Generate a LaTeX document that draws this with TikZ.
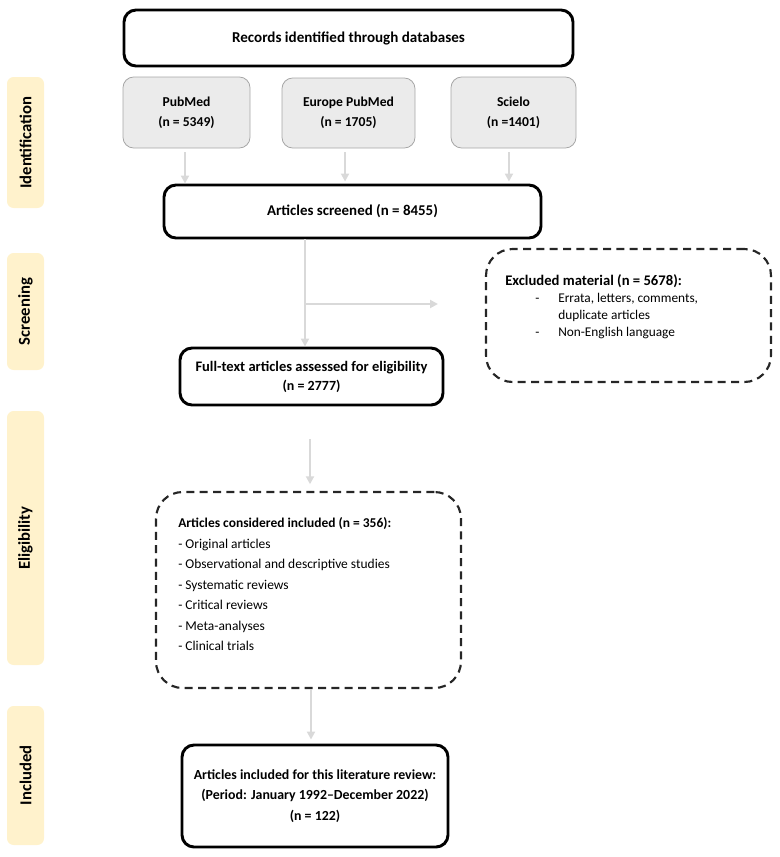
\documentclass[tikz,border=0pt]{standalone}
\usepackage{fontspec}
\setmainfont{Carlito}
\usetikzlibrary{arrows.meta}
\definecolor{arrowgrey}{HTML}{D9D9D9}
\definecolor{dbfill}{HTML}{EBEBEB}
\definecolor{dbline}{HTML}{A6A6A6}
\definecolor{phasefill}{HTML}{FFF2CC}
\tikzset{
  thickbox/.style={draw=black, line width=2.2pt, rounded corners=9pt, align=center, inner sep=0pt, font=\bfseries\fontsize{11}{15}\selectfont},
  dbbox/.style={draw=dbline, fill=dbfill, line width=0.6pt, rounded corners=8pt, align=center, inner sep=0pt, font=\bfseries\fontsize{10.2}{15}\selectfont},
  dashbox/.style={draw=black!85, line width=1.6pt, dash pattern=on 6pt off 4pt, rounded corners=20pt, inner sep=0pt},
  phase/.style={fill=phasefill, rounded corners=5pt, rotate=90, inner sep=0pt, minimum height=27.75pt, font=\bfseries\fontsize{12.5}{14}\selectfont},
  arr/.style={draw=arrowgrey, line width=1.5pt, -{Triangle[width=6pt,length=6pt]}},
  ln/.style={draw=arrowgrey, line width=1.5pt},
  bodytext/.style={align=left, inner sep=0pt, anchor=north west}
}
\begin{document}
\begin{tikzpicture}[x=0.75pt,y=-0.75pt]
\useasboundingbox (0,0) rectangle (780,857);

% phase labels
\node[phase, minimum width=98.25pt] (pid) at (25.5,142.5) {Identification};
\node[phase, minimum width=87.75pt] (psc) at (25.5,311.5) {Screening};
\node[phase, minimum width=190.5pt] (pel) at (25.5,538) {Eligibility};
\node[phase, minimum width=104.25pt] (pin) at (25.5,775.5) {Included};

% boxes
\node[thickbox, minimum width=336.75pt, minimum height=42pt, font=\bfseries\fontsize{11.3}{15}\selectfont] (rec) at (348.5,38) {Records identified through databases};
\node[dbbox, minimum width=95.25pt, minimum height=53.25pt] (pub) at (186.5,112.5) {PubMed\\(n = 5349)};
\node[dbbox, minimum width=99.75pt, minimum height=52.5pt] (eur) at (348.5,113) {Europe PubMed\\(n = 1705)};
\node[dbbox, minimum width=93.75pt, minimum height=53.25pt] (sci) at (513.5,112.5) {Scielo\\(n =1401)};
\node[thickbox, minimum width=282.75pt, minimum height=39.75pt, font=\bfseries\fontsize{11.2}{15}\selectfont] (scr) at (352.5,211.5) {Articles screened (n = 8455)};

\node[dashbox, minimum width=213.75pt, minimum height=99.75pt] (exc) at (628.5,315.5) {};
\node[bodytext, font=\fontsize{10}{12.75}\selectfont] (excT) at (505,274.5) {{\fontsize{11}{12.75}\selectfont\bfseries Excluded material (n = 5678):}\\
\hspace*{22.5pt}\makebox[17.25pt][l]{-}Errata, letters, comments,\\
\hspace*{39.75pt}duplicate articles\\
\hspace*{22.5pt}\makebox[17.25pt][l]{-}Non-English language};

\node[thickbox, minimum width=197.25pt, minimum height=42.75pt, font=\bfseries\fontsize{10.9}{14.25}\selectfont] (ft) at (311.5,376.5) {Full-text articles assessed for eligibility\\{\fontsize{10.5}{14.25}\selectfont(n = 2777)}};

\node[dashbox, minimum width=228.75pt, minimum height=147pt] (con) at (308.5,590) {};
\node[bodytext, font=\fontsize{10.1}{15.4}\selectfont] (conT) at (178,517.5) {\textbf{Articles considered included (n = 356):}\\
- Original articles\\
- Observational and descriptive studies\\
- Systematic reviews\\
- Critical reviews\\
- Meta-analyses\\
- Clinical trials};

\node[thickbox, minimum width=199.5pt, minimum height=76.5pt, font=\bfseries\fontsize{10.4}{15.4}\selectfont] (inc) at (315,796) {Articles included for this literature review:\\(Period: January 1992--December 2022)\\(n = 122)};

% connectors
\draw[arr] ([xshift=-1.125pt,yshift=-3pt]pub.south) -- ([xshift=-1.125pt]pub.south |- scr.north);
\draw[arr] ([xshift=-2.6pt,yshift=-3pt]eur.south) -- ([xshift=-2.6pt,yshift=1.5pt]eur.south |- scr.north);
\draw[arr] ([xshift=-3.4pt,yshift=-3pt]sci.south) -- ([xshift=-3.4pt,yshift=1.5pt]sci.south |- scr.north);

\coordinate (br) at (305,304);
\coordinate (exEnd) at (438,304);
\draw[ln] (scr.south -| br) -- (br);
\draw[arr] (br) -- (br |- ft.north);
\draw[arr] (br) -- (exEnd);

\draw[arr] ([xshift=-1.125pt,yshift=-24.75pt]ft.south) -- ([xshift=-1.125pt,yshift=5pt]ft.south |- con.north);
\draw[arr] ([xshift=1.875pt]con.south) -- ([xshift=1.875pt,yshift=3pt]con.south |- inc.north);
\end{tikzpicture}
\end{document}
